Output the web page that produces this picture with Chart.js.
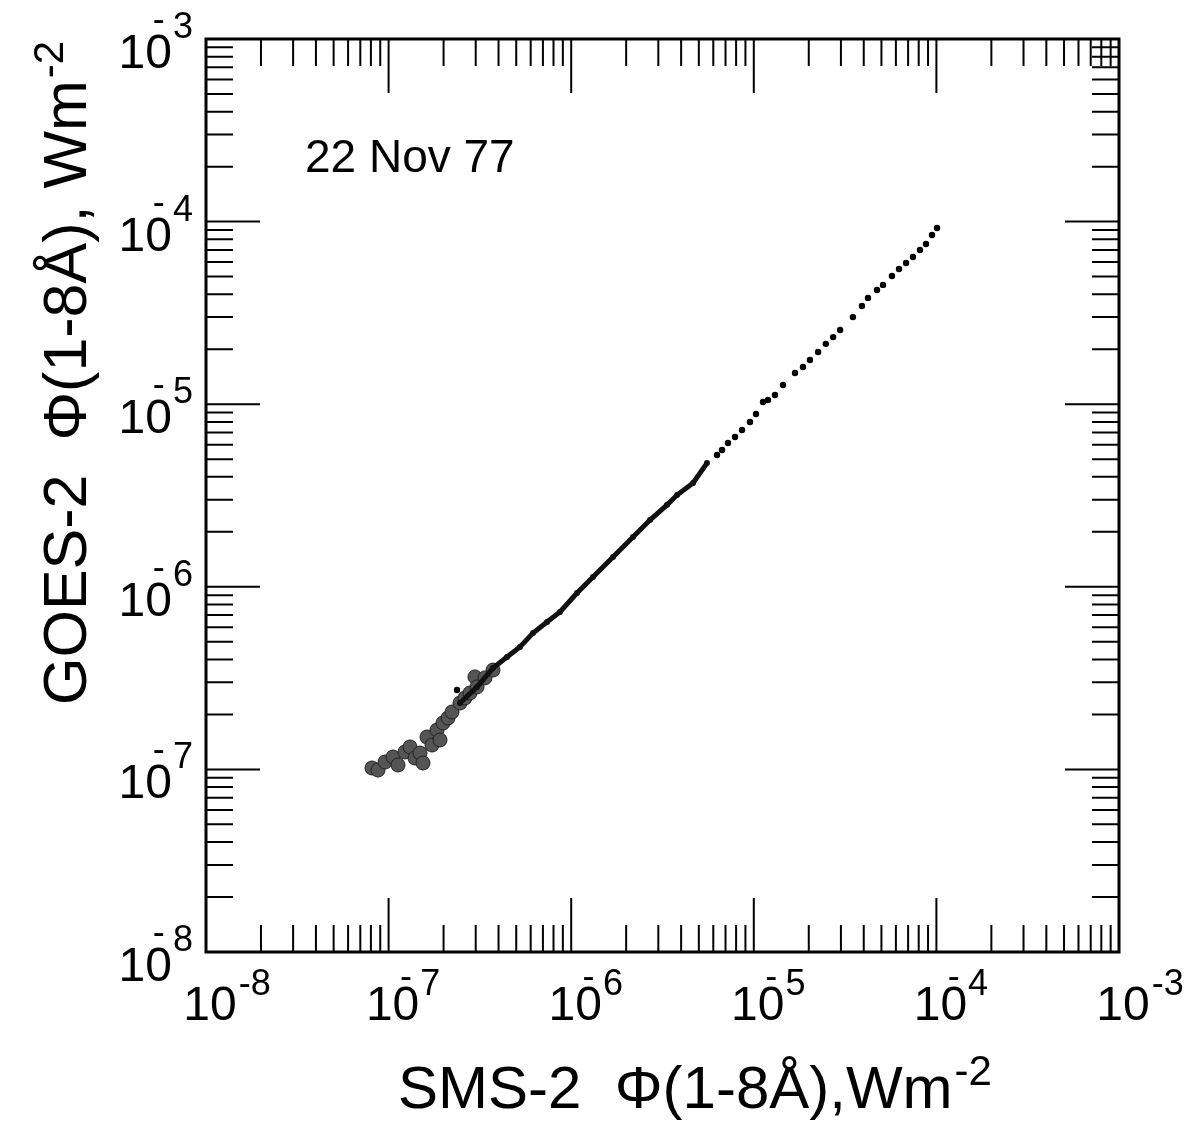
<!DOCTYPE html>
<html>
<head>
<meta charset="utf-8">
<script src="https://cdn.jsdelivr.net/npm/chart.js@4.4.1/dist/chart.umd.min.js"></script>
<style>
  html, body { margin: 0; padding: 0; background: #fff; }
  #wrap { width: 1192px; height: 1121px; }
</style>
</head>
<body>
<div id="wrap"><canvas id="c" width="1192" height="1121"></canvas></div>
<script>
// axis decades (powers of ten) and minor tick multiples
const decadeExps = [-8, -7, -6, -5, -4, -3];
const minorSteps = [2, 3, 4, 5, 6, 7, 8, 9];

// dense blob at low flux
const clusterX = [8.11e-8, 8.75e-8, 9.56e-8, 1.057e-7, 1.126e-7, 1.229e-7, 1.31e-7, 1.395e-7, 1.486e-7,
    1.543e-7, 1.623e-7, 1.729e-7, 1.841e-7, 1.912e-7, 1.986e-7, 2.115e-7, 2.224e-7, 2.46e-7,
    2.62e-7, 2.79e-7, 2.97e-7, 3.05e-7, 3.37e-7, 3.73e-7];
const clusterY = [1.018e-7, 9.92e-8, 1.098e-7, 1.169e-7, 1.057e-7, 1.246e-7, 1.327e-7, 1.154e-7, 1.229e-7,
    1.084e-7, 1.504e-7, 1.36e-7, 1.643e-7, 1.449e-7, 1.795e-7, 1.912e-7, 2.062e-7, 2.31e-7,
    2.46e-7, 2.62e-7, 3.21e-7, 2.83e-7, 3.17e-7, 3.50e-7];

// continuous part of the track
const traceX = [2.46e-7, 3.05e-7, 3.73e-7, 4.45e-7, 5.24e-7, 6.18e-7, 7.37e-7, 8.68e-7, 1.076e-6,
    1.316e-6, 1.694e-6, 2.18e-6, 2.70e-6, 3.35e-6, 3.80e-6, 4.65e-6, 5.54e-6];
const traceY = [2.31e-7, 2.83e-7, 3.59e-7, 4.13e-7, 4.68e-7, 5.58e-7, 6.41e-7, 7.28e-7, 9.25e-7,
    1.132e-6, 1.456e-6, 1.874e-6, 2.32e-6, 2.81e-6, 3.18e-6, 3.70e-6, 4.76e-6];

// separate dots (flare peak part)
const dotX = [2.369e-7, 6.29e-6, 6.70e-6, 7.22e-6, 7.89e-6, 8.62e-6, 9.53e-6, 1.028e-5, 1.123e-5, 1.196e-5,
    1.306e-5, 1.445e-5, 1.681e-5, 1.859e-5, 2.03e-5, 2.25e-5, 2.48e-5, 2.72e-5, 2.97e-5, 3.49e-5,
    3.91e-5, 4.22e-5, 4.73e-5, 5.10e-5, 5.71e-5, 6.24e-5, 6.82e-5, 7.44e-5, 8.13e-5, 8.77e-5,
    9.46e-5, 1.008e-4];
const dotY = [2.72e-7, 5.27e-6, 5.61e-6, 6.13e-6, 6.61e-6, 7.22e-6, 7.99e-6, 8.84e-6, 1.028e-5, 1.054e-5,
    1.123e-5, 1.274e-5, 1.482e-5, 1.598e-5, 1.746e-5, 1.931e-5, 2.14e-5, 2.33e-5, 2.55e-5, 3.00e-5,
    3.45e-5, 3.82e-5, 4.22e-5, 4.50e-5, 5.04e-5, 5.50e-5, 5.93e-5, 6.40e-5, 6.99e-5, 7.54e-5,
    8.45e-5, 9.22e-5];

const dateLabel = '22 Nov 77';
const xTitle = 'SMS-2  \u03A6(1-8\u00C5),Wm';
const yTitle = 'GOES-2  \u03A6(1-8\u00C5), Wm';
const titleExp = '-2';

const FONT = '"Liberation Sans", Arial, sans-serif';

function toPoints(xs, ys) {
    return xs.map((v, i) => ({ x: v, y: ys[i] }));
}

// 画框和向内的刻度、刻度标签、标题
const frameAndLabels = {
    id: 'frameAndLabels',
    afterDatasetsDraw(chart) {
        const { ctx, chartArea: a, scales: { x, y } } = chart;
        ctx.save();
        ctx.strokeStyle = '#000';
        ctx.fillStyle = '#000';

        // frame
        ctx.lineWidth = 3;
        ctx.strokeRect(a.left, a.top, a.right - a.left, a.bottom - a.top);

        // inward ticks on all four sides
        const MAJOR = 54, MINOR = 27;
        ctx.lineWidth = 2;
        ctx.beginPath();
        const tick = (v, len) => {
            const px = x.getPixelForValue(v);
            const py = y.getPixelForValue(v);
            ctx.moveTo(px, a.bottom); ctx.lineTo(px, a.bottom - len);
            ctx.moveTo(px, a.top); ctx.lineTo(px, a.top + len);
            ctx.moveTo(a.left, py); ctx.lineTo(a.left + len, py);
            ctx.moveTo(a.right, py); ctx.lineTo(a.right - len, py);
        };
        decadeExps.forEach((e, i) => {
            const base = Math.pow(10, e);
            if (i > 0 && i < decadeExps.length - 1) tick(base, MAJOR);
            if (i < decadeExps.length - 1) {
                minorSteps.forEach(m => tick(m * base, MINOR));
            }
        });
        ctx.stroke();

        // tick labels: 10 with raised exponent
        const baseFont = '48px ' + FONT;
        const supFont = '36px ' + FONT;
        ctx.textBaseline = 'alphabetic';
        decadeExps.forEach(e => {
            const v = Math.pow(10, e);
            const digit = String(Math.abs(e));

            // x axis
            const px = x.getPixelForValue(v) + 4;
            ctx.font = baseFont;
            ctx.textAlign = 'center';
            ctx.fillText('10', px, a.bottom + 68);
            const w = ctx.measureText('10').width;
            const w0 = ctx.measureText('0').width;
            const right = px + w / 2;
            ctx.font = supFont;
            ctx.textAlign = 'left';
            if (e === -8 || e === -3) {
                ctx.fillText('-' + digit, right + 2, a.bottom + 43);
            } else {
                ctx.textAlign = 'center';
                ctx.fillText('-', right - w0 / 2, a.bottom + 36);
                ctx.textAlign = 'left';
                ctx.fillText(digit, right + 1, a.bottom + 43);
            }

            // y axis
            const py = y.getPixelForValue(v);
            ctx.font = baseFont;
            ctx.textAlign = 'right';
            const yr = a.left - 34;
            ctx.fillText('10', yr, py + 29);
            ctx.font = supFont;
            ctx.textAlign = 'center';
            ctx.fillText('-', yr - w0 / 2, py - 8);
            ctx.textAlign = 'left';
            ctx.fillText(digit, yr + 1, py - 1);
        });

        // date label
        ctx.font = '46px ' + FONT;
        ctx.textAlign = 'left';
        ctx.fillText(dateLabel, 305, 172);

        // x title
        ctx.font = '60px ' + FONT;
        ctx.fillText(xTitle, 398, 1108);
        let tw = ctx.measureText(xTitle).width;
        ctx.font = '42px ' + FONT;
        ctx.fillText(titleExp, 398 + tw + 2, 1085);

        // y title (rotated)
        ctx.translate(86, 705);
        ctx.rotate(-Math.PI / 2);
        ctx.font = '61px ' + FONT;
        ctx.fillText(yTitle, 0, 0);
        tw = ctx.measureText(yTitle).width;
        ctx.font = '42px ' + FONT;
        ctx.fillText(titleExp, tw + 2, -23);

        ctx.restore();
    }
};

const canvas = document.getElementById('c');
window.fluxChart = new Chart(canvas, {
    type: 'scatter',
    data: {
        datasets: [
            {
                label: 'dots',
                data: toPoints(dotX, dotY),
                pointRadius: 3.2,
                pointBackgroundColor: '#000',
                pointBorderWidth: 0,
                showLine: false
            },
            {
                label: 'trace',
                data: toPoints(traceX, traceY),
                showLine: true,
                borderColor: '#111',
                borderWidth: 5,
                pointRadius: 3,
                pointBackgroundColor: '#111',
                pointBorderWidth: 0
            },
            {
                label: 'cluster',
                data: toPoints(clusterX, clusterY),
                pointRadius: 7,
                pointBackgroundColor: '#555',
                pointBorderColor: '#222',
                pointBorderWidth: 1,
                showLine: false
            }
        ]
    },
    options: {
        responsive: false,
        animation: false,
        devicePixelRatio: 1,
        layout: {
            padding: { left: 206, top: 39, right: 73, bottom: 169 }
        },
        scales: {
            x: { type: 'logarithmic', display: false, min: 1e-8, max: 1e-3 },
            y: { type: 'logarithmic', display: false, min: 1e-8, max: 1e-3 }
        },
        plugins: {
            legend: { display: false },
            tooltip: { enabled: false }
        }
    },
    plugins: [frameAndLabels]
});
</script>
</body>
</html>
